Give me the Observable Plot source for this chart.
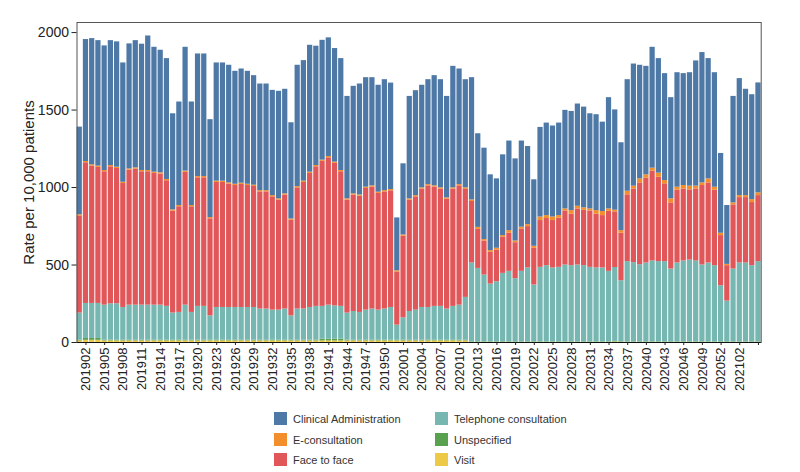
<!DOCTYPE html>
<html>
<head>
<meta charset="utf-8">
<script src="https://cdn.jsdelivr.net/npm/d3@7"></script>
<script src="https://cdn.jsdelivr.net/npm/@observablehq/plot@0.6"></script>
<style>
  body { margin: 0; background: #fff; font-family: "Liberation Sans", Arial, sans-serif; }
  #chart svg { display: block; }
  #legend { position: relative; width: 800px; height: 70px; font-size: 11px; color: #333; }
  .item { position: absolute; display: flex; align-items: center; white-space: nowrap; }
  .sw { width: 13px; height: 13px; margin-right: 6px; }
</style>
</head>
<body>
<div id="chart"></div>
<div id="legend"></div>
<script>
const weeks = [
 "201901","201902","201903","201904","201905","201906","201907","201908","201909","201910",
 "201911","201912","201913","201914","201915","201916","201917","201918","201919","201920",
 "201921","201922","201923","201924","201925","201926","201927","201928","201929","201930",
 "201931","201932","201933","201934","201935","201936","201937","201938","201939","201940",
 "201941","201942","201943","201944","201945","201946","201947","201948","201949","201950",
 "201951","201952",
 "202001","202002","202003","202004","202005","202006","202007","202008","202009","202010",
 "202011","202012","202013","202014","202015","202016","202017","202018","202019","202020",
 "202021","202022","202023","202024","202025","202026","202027","202028","202029","202030",
 "202031","202032","202033","202034","202035","202036","202037","202038","202039","202040",
 "202041","202042","202043","202044","202045","202046","202047","202048","202049","202050",
 "202051","202052","202053",
 "202101","202102","202103","202104","202105"
];

const tickWeeks = [
 "201902","201905","201908","201911","201914","201917","201920","201923","201926","201929",
 "201932","201935","201938","201941","201944","201947","201950","202001","202004","202007",
 "202010","202013","202016","202019","202022","202025","202028","202031","202034","202037",
 "202040","202043","202046","202049","202052","202102","202105"
];
const labelledTicks = tickWeeks.slice(0, -1);
const yTicks = [0, 500, 1000, 1500, 2000];

const clinicalAdmin = [
 565,787,814,810,804,806,809,770,807,821,
 815,868,806,791,780,620,668,799,668,791,
 791,632,763,763,759,729,737,729,707,688,
 688,679,694,675,621,783,778,819,770,773,
 766,733,722,661,694,716,707,698,690,716,
 687,341,
 459,661,677,662,677,711,698,655,784,746,
 698,789,604,590,489,448,521,578,530,556,
 504,429,578,597,587,597,636,640,660,650,
 614,619,577,718,647,567,720,788,733,700,
 780,739,690,653,739,722,732,808,841,776,
 739,515,380,
 687,755,686,677,709
];
const eConsultation = [
 8,8,8,8,8,8,8,8,8,8,
 8,8,8,8,8,8,8,8,8,8,
 8,8,8,8,8,8,8,8,8,8,
 8,8,8,8,8,8,8,8,8,8,
 8,8,8,8,8,8,8,8,8,8,
 8,8,
 8,8,8,8,8,8,8,8,8,8,
 10,10,13,9,11,11,9,17,11,11,
 13,13,23,19,23,17,13,23,17,16,
 13,23,26,15,11,17,23,18,26,22,
 19,26,21,26,19,22,24,18,17,26,
 19,15,8,
 13,13,13,19,18
];
const faceToFace = [
 627,908,887,878,861,884,873,800,871,878,
 861,861,850,846,811,658,682,857,682,830,
 830,626,807,807,796,787,794,787,781,756,
 756,731,710,735,617,782,817,865,901,936,
 951,920,869,729,751,750,785,787,753,756,
 753,343,
 527,719,731,764,785,770,757,709,757,770,
 697,397,252,220,205,205,235,246,232,274,
 267,237,302,304,306,317,349,332,362,357,
 364,347,338,388,359,306,431,476,528,547,
 580,545,502,427,470,465,453,465,513,517,
 487,324,229,
 414,422,422,407,426
];
const telephone = [
 175,226,226,226,226,235,235,211,226,226,
 226,226,226,226,218,175,179,226,179,218,
 218,157,211,211,211,211,211,211,211,201,
 201,194,194,201,157,201,201,211,218,211,
 219,214,211,175,185,179,194,201,194,201,
 211,97,
 144,185,194,211,211,218,218,201,218,226,
 276,509,474,431,373,388,442,455,408,455,
 477,367,481,492,477,481,496,492,496,492,
 481,477,477,455,477,395,518,511,498,509,
 522,518,518,470,509,522,528,522,496,509,
 492,362,263,
 470,509,509,492,518
];
const unspecified = [
 5,12,12,12,5,5,5,5,5,5,
 5,5,5,5,5,5,5,5,5,5,
 5,5,5,5,5,5,5,5,5,5,
 5,5,5,5,5,5,5,5,5,12,
 12,12,12,5,5,5,5,5,5,5,
 5,5,
 5,5,5,5,5,5,5,5,5,5,
 5,3,3,3,3,3,3,3,3,3,
 3,3,3,3,3,3,3,3,3,3,
 3,3,3,3,3,3,3,3,3,3,
 3,3,3,3,3,3,3,3,3,3,
 3,3,3,
 3,3,3,3,3
];
const visit = [
 10,14,14,14,10,10,10,10,10,10,
 10,10,10,10,10,10,10,10,10,10,
 10,10,10,10,10,10,10,10,10,10,
 10,10,10,10,10,10,10,10,10,10,
 10,10,10,10,10,10,10,10,10,10,
 10,10,
 10,10,10,10,10,10,10,10,10,10,
 10,1,1,1,1,1,1,1,1,1,
 1,1,1,1,1,1,1,1,1,1,
 1,1,1,1,4,1,1,1,1,1,
 1,1,1,1,1,1,1,1,1,1,
 1,1,1,
 1,1,1,1,1
];

const legendOrder = ["Clinical Administration","E-consultation","Face to face","Telephone consultation","Unspecified","Visit"];
const colors = ["#4e79a7","#f28e2b","#e15759","#76b7b2","#59a14f","#edc948"];

// stacking order from bottom to top
const stackSeries = [
 ["Visit", visit],
 ["Unspecified", unspecified],
 ["Telephone consultation", telephone],
 ["Face to face", faceToFace],
 ["E-consultation", eConsultation],
 ["Clinical Administration", clinicalAdmin]
];
const rows = [];
weeks.forEach((w, i) => {
  for (const [type, arr] of stackSeries) rows.push({week: w, type, value: arr[i]});
});

const chart = Plot.plot({
  width: 800,
  height: 402,
  marginLeft: 76.5,
  marginRight: 39.3,
  marginTop: 22,
  marginBottom: 60,
  style: {fontFamily: "Liberation Sans, Arial, sans-serif", color: "#222", background: "#fff"},
  x: {type: "band", domain: weeks, paddingInner: 0.16, paddingOuter: 0.02, round: false},
  y: {domain: [0, 2065]},
  color: {domain: legendOrder, range: colors},
  marks: [
    Plot.barY(rows, {x: "week", y: "value", fill: "type"}),
    Plot.frame({stroke: "#555", strokeWidth: 1}),
    Plot.ruleY([0], {stroke: "#111", strokeWidth: 1.2}),
    Plot.axisY({ticks: yTicks, tickSize: 5, fontSize: 14, tickPadding: 3, tickFormat: d => String(d), label: null}),
    Plot.axisY({ticks: [], tickSize: 0, fontSize: 15,
      label: "Rate per 10,000 patients", labelAnchor: "center", labelArrow: "none", labelOffset: 54}),
    Plot.axisX({ticks: tickWeeks, tickSize: 3, tickRotate: -90, fontSize: 13, tickPadding: 2,
      tickFormat: d => labelledTicks.includes(d) ? d : "", label: null})
  ]
});
document.getElementById("chart").appendChild(chart);

// legend below the chart
const legend = document.getElementById("legend");
const positions = [
  [274, 10], [435, 10],
  [274, 31], [435, 31],
  [274, 51], [435, 51]
];
const legendGrid = ["Clinical Administration","Telephone consultation","E-consultation","Unspecified","Face to face","Visit"];
legendGrid.forEach((name, k) => {
  const item = document.createElement("div");
  item.className = "item";
  item.style.left = positions[k][0] + "px";
  item.style.top = positions[k][1] + "px";
  const sw = document.createElement("div");
  sw.className = "sw";
  sw.style.background = colors[legendOrder.indexOf(name)];
  const tx = document.createElement("span");
  tx.textContent = name;
  item.appendChild(sw);
  item.appendChild(tx);
  legend.appendChild(item);
});
</script>
</body>
</html>
